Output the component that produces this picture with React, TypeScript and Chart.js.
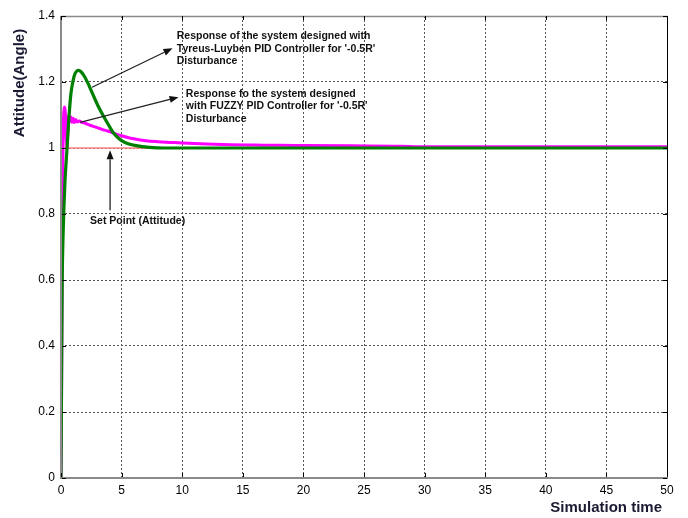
import React, { useEffect, useRef } from 'react';
import { Chart, registerables } from 'chart.js';
Chart.register(...registerables);

// ---- data ----
const timeTL = [0, 0.03, 0.06, 0.1, 0.16, 0.24, 0.33, 0.5, 0.65, 0.82, 1.0, 1.15, 1.3, 1.46, 1.65, 1.9, 2.2, 2.6, 3.0, 3.5, 4.0, 4.3, 4.7, 5.1, 5.6, 6.2, 7.3, 8.5, 10, 20, 30, 40, 50];
const attitudeTL = [0, 0.2, 0.4, 0.6, 0.72, 0.82, 0.9, 1.0, 1.09, 1.165, 1.205, 1.225, 1.233, 1.235, 1.231, 1.219, 1.198, 1.165, 1.132, 1.097, 1.065, 1.047, 1.031, 1.02, 1.012, 1.007, 1.002, 1.0, 1.0, 1.0, 1.0, 1.0, 1.0];

const timeFuzzy = [0, 0.04, 0.08, 0.12, 0.16, 0.2, 0.25, 0.3, 0.35, 0.4, 0.45, 0.5, 0.55, 0.6, 0.65, 0.7, 0.8, 0.9, 1.0, 1.1, 1.2, 1.35, 1.5, 1.7, 2.0, 2.4, 2.8, 3.2, 3.6, 4.0, 4.5, 5.0, 5.5, 6.0, 7.0, 8.0, 9.0, 10, 12, 14, 16, 18, 20, 24, 28, 30, 35, 40, 45, 50];
const attitudeFuzzy = [0, 0.2, 0.5, 0.8, 0.98, 1.08, 1.115, 1.124, 1.11, 1.07, 1.02, 1.0, 1.04, 1.085, 1.1, 1.08, 1.095, 1.078, 1.09, 1.077, 1.086, 1.079, 1.082, 1.078, 1.075, 1.069, 1.064, 1.059, 1.054, 1.05, 1.043, 1.037, 1.032, 1.028, 1.022, 1.019, 1.017, 1.015, 1.012, 1.010, 1.009, 1.008, 1.0075, 1.0065, 1.0055, 1.0035, 1.0035, 1.004, 1.004, 1.004];

const setPointTime = [0, 50];
const setPointValue = [1, 1];

const xTicks = [0, 5, 10, 15, 20, 25, 30, 35, 40, 45, 50];
const yTicks = [0, 0.2, 0.4, 0.6, 0.8, 1, 1.2, 1.4];

const xTitle = 'Simulation time';
const yTitle = 'Attitude(Angle)';

const noteTL = ['Response of the system designed with', "Tyreus-Luyben PID Controller for '-0.5R'", 'Disturbance'];
const noteFuzzy = ['Response fo the system designed', "with FUZZY PID Controller for '-0.5R'", 'Disturbance'];
const noteSetPoint = 'Set Point (Attitude)';

// annotation anchors in data units [t, value]
const noteTLAnchor = [9.55, 1.339];
const noteFuzzyAnchor = [10.3, 1.163];
const noteSetPointAnchor = [2.4, 0.778];
const arrowTL = [[2.56, 1.184], [9.2, 1.302]];
const arrowFuzzy = [[1.57, 1.078], [9.7, 1.154]];
const arrowSetPoint = [[4.05, 0.811], [4.05, 0.993]];

function drawArrow(ctx: CanvasRenderingContext2D, x1: number, y1: number, x2: number, y2: number) {
  const ang = Math.atan2(y2 - y1, x2 - x1);
  const len = 9;
  const hw = 3.5;
  const bx = x2 - len * Math.cos(ang);
  const by = y2 - len * Math.sin(ang);
  ctx.beginPath();
  ctx.moveTo(x1, y1);
  ctx.lineTo(bx, by);
  ctx.stroke();
  ctx.beginPath();
  ctx.moveTo(x2, y2);
  ctx.lineTo(bx + hw * Math.sin(ang), by - hw * Math.cos(ang));
  ctx.lineTo(bx - hw * Math.sin(ang), by + hw * Math.cos(ang));
  ctx.closePath();
  ctx.fill();
}

const overlay = {
  id: 'overlay',
  afterDraw(chart: any) {
    const { ctx, chartArea: a, scales } = chart;
    const x = scales.x;
    const y = scales.y;
    const px = (t: number) => x.getPixelForValue(t);
    const py = (v: number) => y.getPixelForValue(v);
    ctx.save();
    // frame
    ctx.strokeStyle = '#000';
    ctx.lineWidth = 1;
    ctx.beginPath();
    ctx.moveTo(a.right + 0.5, a.top);
    ctx.lineTo(a.right + 0.5, a.bottom);
    ctx.stroke();
    ctx.strokeStyle = '#8a8a8a';
    ctx.lineWidth = 1.5;
    ctx.beginPath();
    ctx.moveTo(a.left, a.top + 0.5);
    ctx.lineTo(a.right + 1, a.top + 0.5);
    ctx.stroke();
    ctx.lineWidth = 2;
    ctx.beginPath();
    ctx.moveTo(a.left, a.top);
    ctx.lineTo(a.left, a.bottom);
    ctx.lineTo(a.right + 1, a.bottom);
    ctx.stroke();
    // inner tick marks
    ctx.strokeStyle = '#000';
    ctx.lineWidth = 1;
    yTicks.forEach((v) => {
      const yy = Math.round(py(v)) + 0.5;
      ctx.beginPath();
      ctx.moveTo(a.left + 1, yy);
      ctx.lineTo(a.left + 5, yy);
      ctx.moveTo(a.right, yy);
      ctx.lineTo(a.right - 4, yy);
      ctx.stroke();
    });
    xTicks.forEach((t) => {
      const xx = Math.round(px(t)) + 0.5;
      ctx.beginPath();
      ctx.moveTo(xx, a.bottom - 1);
      ctx.lineTo(xx, a.bottom - 5);
      ctx.moveTo(xx, a.top);
      ctx.lineTo(xx, a.top + 4);
      ctx.stroke();
    });
    // arrows
    ctx.strokeStyle = '#222';
    ctx.fillStyle = '#111';
    ctx.lineWidth = 1.3;
    [arrowTL, arrowFuzzy, arrowSetPoint].forEach(([p1, p2]) => {
      drawArrow(ctx, px(p1[0]), py(p1[1]), px(p2[0]), py(p2[1]));
    });
    // notes
    ctx.fillStyle = '#111';
    ctx.font = 'bold 10.5px "Liberation Sans", Arial, sans-serif';
    ctx.textAlign = 'left';
    ctx.textBaseline = 'middle';
    noteTL.forEach((s, i) => ctx.fillText(s, px(noteTLAnchor[0]), py(noteTLAnchor[1]) + i * 12.7));
    noteFuzzy.forEach((s, i) => ctx.fillText(s, px(noteFuzzyAnchor[0]), py(noteFuzzyAnchor[1]) + i * 12.3));
    ctx.fillText(noteSetPoint, px(noteSetPointAnchor[0]), py(noteSetPointAnchor[1]));
    // axis titles
    ctx.fillStyle = '#1a1a33';
    ctx.font = 'bold 15px "Liberation Sans", Arial, sans-serif';
    ctx.textAlign = 'right';
    ctx.fillText(xTitle, 662, 508);
    ctx.translate(20, 83);
    ctx.rotate(-Math.PI / 2);
    ctx.textAlign = 'center';
    ctx.fillText(yTitle, 0, 0);
    ctx.restore();
  },
};

const fmt = (v: number) => String(Math.round(v * 100) / 100);

export default function App() {
  const ref = useRef<HTMLCanvasElement>(null);
  useEffect(() => {
    if (!ref.current) return;
    const chart = new Chart(ref.current, {
      type: 'line',
      data: {
        datasets: [
          {
            label: 'Tyreus-Luyben PID',
            data: timeTL.map((t, i) => ({ x: t, y: attitudeTL[i] })),
            borderColor: '#008000',
            borderWidth: 3.2,
            pointRadius: 0,
            cubicInterpolationMode: 'monotone',
            order: 0,
          },
          {
            label: 'FUZZY PID',
            data: timeFuzzy.map((t, i) => ({ x: t, y: attitudeFuzzy[i] })),
            borderColor: '#ff00ff',
            borderWidth: 3,
            pointRadius: 0,
            cubicInterpolationMode: 'monotone',
            order: 1,
          },
          {
            label: 'Set Point',
            data: setPointTime.map((t, i) => ({ x: t, y: setPointValue[i] })),
            borderColor: '#ff8080',
            borderWidth: 1.5,
            pointRadius: 0,
            order: 2,
          },
        ],
      },
      options: {
        responsive: false,
        animation: false,
        layout: { padding: { left: 0, right: 21, top: 16, bottom: 0 } },
        plugins: { legend: { display: false }, tooltip: { enabled: false } },
        scales: {
          x: {
            type: 'linear',
            min: 0,
            max: 50,
            afterFit: (s: any) => { s.height = 40; },
            afterBuildTicks: (s: any) => { s.ticks = xTicks.map((v) => ({ value: v })); },
            grid: { color: '#555', lineWidth: 1, drawTicks: false },
            border: { display: false, dash: [2, 2] },
            ticks: { color: '#000', padding: 5, font: { family: '"Liberation Sans", Arial, sans-serif', size: 12 }, maxRotation: 0, callback: (v: any) => fmt(Number(v)) },
          },
          y: {
            type: 'linear',
            min: 0,
            max: 1.4,
            afterFit: (s: any) => { s.width = 61; },
            afterBuildTicks: (s: any) => { s.ticks = yTicks.map((v) => ({ value: v })); },
            grid: { color: '#555', lineWidth: 1, drawTicks: false },
            border: { display: false, dash: [2, 2] },
            ticks: { color: '#000', padding: 6, font: { family: '"Liberation Sans", Arial, sans-serif', size: 12 }, callback: (v: any) => fmt(Number(v)) },
          },
        },
      },
      plugins: [overlay],
    } as any);
    return () => chart.destroy();
  }, []);
  return (
    <div style={{ position: 'absolute', left: 0, top: 0, width: 688, height: 518, background: '#fff' }}>
      <canvas ref={ref} width={688} height={518} />
    </div>
  );
}
